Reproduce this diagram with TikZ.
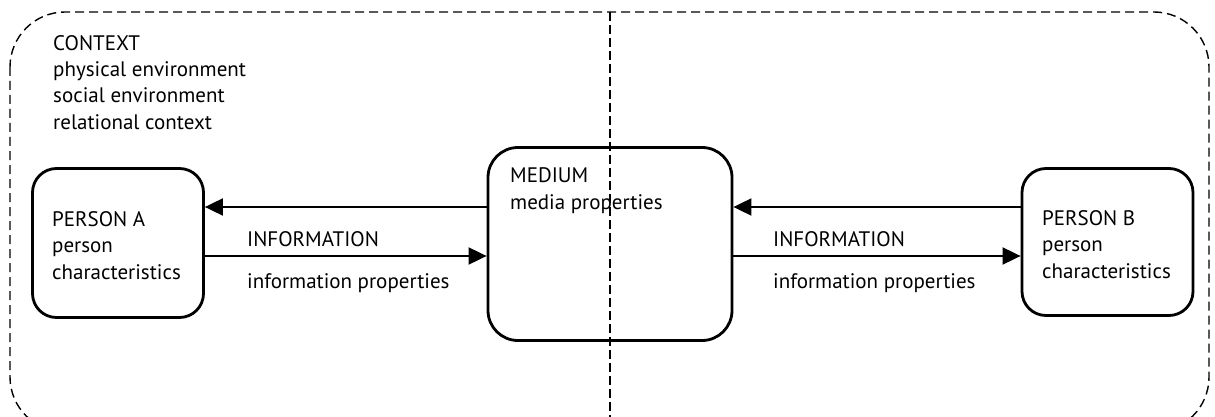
\documentclass[tikz,border=0pt]{standalone}
\usepackage{fontspec}
\setmainfont{PT Sans}
\usetikzlibrary{arrows.meta}
\tikzset{
  frame/.style={draw, line width=1.4pt, dash pattern=on 9pt off 5pt},
  divider/.style={draw, line width=1.4pt, dash pattern=on 9pt off 4pt},
  box/.style={draw, line width=2.8pt, rounded corners=24pt, inner sep=0pt},
  flow/.style={draw, line width=1.9pt, -{Triangle[length=18pt,width=17pt]}},
  label/.style={anchor=base west, inner sep=0pt, align=left, font=\fontsize{21}{26.3}\selectfont}
}
\begin{document}
\begin{tikzpicture}[x=1pt,y=-1pt]
  \useasboundingbox (0,0) rectangle (1215,417);
  \clip (0,0) rectangle (1215,417);

  % context frame (its lower edge runs past the page) and the divider
  \draw[frame, rounded corners=55pt] (10,12) rectangle (1209,432);
  \coordinate (dtop) at (610,12);
  \coordinate (dbot) at (610,420);
  \draw[divider] (dtop) -- (dbot);

  % context text (anchored at the baseline of its last line)
  \node[label] (ctx) at (53,129)
    {CONTEXT\\physical environment\\social environment\\relational context};

  % the three boxes
  \node[box, minimum width=171pt, minimum height=149pt] (A) at (118,243) {};
  \node[box, minimum width=244pt, minimum height=193pt, rounded corners=30pt] (M) at (610,244) {};
  \node[box, minimum width=171pt, minimum height=147pt] (B) at (1107.5,242) {};

  \node[label] (At) at (52,279) {PERSON A\\person\\characteristics};
  \node[label] (Mt) at (510,209) {MEDIUM\\media properties};
  \node[label] (Bt) at (1042,278) {PERSON B\\person\\characteristics};

  % heights of the two information lines
  \coordinate (hi) at (0,207);
  \coordinate (lo) at (0,256);

  \draw[flow] (M.west |- hi) -- (A.east |- hi);
  \draw[flow] (A.east |- lo) -- (M.west |- lo);
  \draw[flow] (B.west |- hi) -- (M.east |- hi);
  \draw[flow] (M.east |- lo) -- (B.west |- lo);

  \node[label] (i1) at (247,246) {INFORMATION};
  \node[label] (p1) at (247,288) {information properties};
  \node[label] (i2) at (773,246) {INFORMATION};
  \node[label] (p2) at (773,288) {information properties};
\end{tikzpicture}
\end{document}
